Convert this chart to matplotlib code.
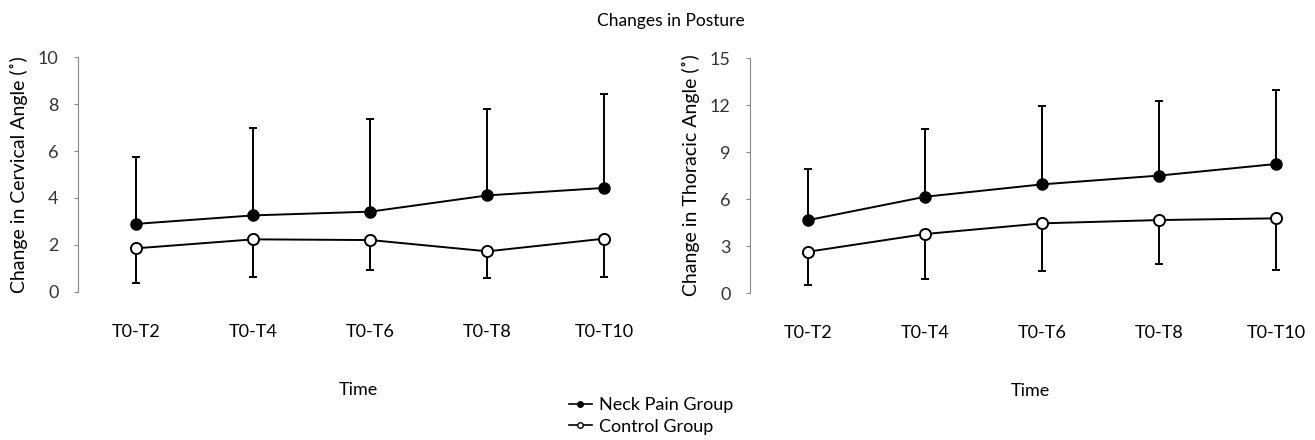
import numpy as np
import matplotlib
matplotlib.use("Agg")
import matplotlib.pyplot as plt
from matplotlib.lines import Line2D

plt.rcParams['font.family'] = ['Lato', 'DejaVu Sans']

time_labels = ["T0-T2", "T0-T4", "T0-T6", "T0-T8", "T0-T10"]

# cervical angle (left panel)
cerv_neck = [2.9, 3.26, 3.42, 4.11, 4.43]
cerv_neck_sd = [2.86, 3.73, 3.96, 3.69, 4.0]
cerv_ctrl = [1.86, 2.24, 2.21, 1.73, 2.27]
cerv_ctrl_sd = [1.48, 1.6, 1.26, 1.15, 1.63]

# thoracic angle (right panel)
thor_neck = [4.66, 6.15, 6.94, 7.5, 8.24]
thor_neck_sd = [3.24, 4.35, 5.01, 4.75, 4.73]
thor_ctrl = [2.64, 3.77, 4.45, 4.66, 4.77]
thor_ctrl_sd = [2.13, 2.85, 3.04, 2.81, 3.3]


def draw_panel(ax, neck, neck_sd, ctrl, ctrl_sd, ylim, yticks, ylabel):
    x = np.arange(len(time_labels))
    zeros = np.zeros(len(x))
    ax.errorbar(x, neck, yerr=[zeros, neck_sd], fmt='-o', color='black',
                mfc='black', mec='black', ms=8, lw=1.4, elinewidth=1.4,
                capsize=3, capthick=1.4, zorder=3)
    ax.errorbar(x, ctrl, yerr=[ctrl_sd, zeros], fmt='-o', color='black',
                mfc='white', mec='black', ms=8, mew=1.4, lw=1.4,
                elinewidth=1.4, capsize=3, capthick=1.4, zorder=3)
    ax.set_xlim(-0.5, 4.3)
    ax.set_ylim(*ylim)
    ax.set_yticks(yticks)
    ax.set_xticks(x)
    ax.set_xticklabels(time_labels, fontsize=13)
    for s in ['top', 'right', 'bottom']:
        ax.spines[s].set_visible(False)
    ax.spines['left'].set_color('#888888')
    ax.spines['left'].set_linewidth(0.8)
    ax.tick_params(axis='x', length=0, pad=23)
    ax.tick_params(axis='y', length=3, width=0.8, color='#888888',
                   labelsize=13, labelcolor='#333333', pad=11)
    ax.set_ylabel(ylabel, fontsize=14, labelpad=7)
    ax.set_xlabel("Time", fontsize=13, labelpad=30)


fig = plt.figure(figsize=(13.15, 4.4), dpi=100)
ax1 = fig.add_axes([0.0593, 0.3364, 0.427, 0.534])
ax2 = fig.add_axes([0.5703, 0.334, 0.427, 0.534])

draw_panel(ax1, cerv_neck, cerv_neck_sd, cerv_ctrl, cerv_ctrl_sd,
           (0, 10), [0, 2, 4, 6, 8, 10], "Change in Cervical Angle (\u02da)")
draw_panel(ax2, thor_neck, thor_neck_sd, thor_ctrl, thor_ctrl_sd,
           (0, 15), [0, 3, 6, 9, 12, 15], "Change in Thoracic Angle (\u02da)")

fig.text(0.51, 0.952, "Changes in Posture", ha='center', va='center', fontsize=12.5)

handles = [
    Line2D([0], [0], color='black', lw=1.2, marker='o', ms=4, mfc='black'),
    Line2D([0], [0], color='black', lw=1.2, marker='o', ms=4, mfc='white'),
]
fig.legend(handles, ["Neck Pain Group", "Control Group"], loc='lower left',
           bbox_to_anchor=(0.42, -0.025), frameon=False, fontsize=13,
           handlelength=1.3, handletextpad=0.4, labelspacing=0.3)

fig.savefig("out.png", dpi=100)
